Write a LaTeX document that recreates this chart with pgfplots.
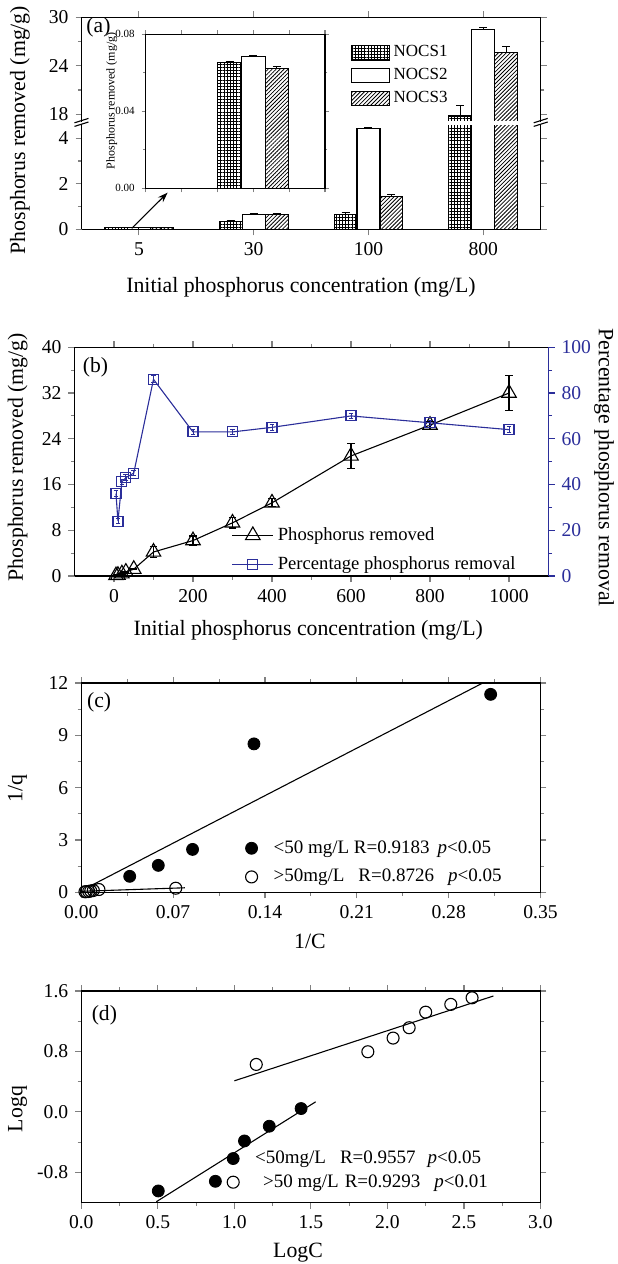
\documentclass[border=0pt]{standalone}
\usepackage{fontspec}
\setmainfont{Liberation Serif}
\usepackage{pgfplots}
\pgfplotsset{compat=1.18}
\usepackage{pgfplotstable}
\usetikzlibrary{patterns.meta,arrows.meta}
\definecolor{pblue}{HTML}{2B2E9A}

% panel (a): bars per sample, x = category index (5, 30, 100, 800 mg/L)
\pgfplotstableread{
x y e
0 0.066 0.001
1 0.33 0.04
2 0.66 0.09
3 17.78 1.3
}\nocsone
\pgfplotstableread{
x y e
0 0.069 0.001
1 0.66 0.03
2 4.44 0.03
3 28.46 0.25
}\nocstwo
\pgfplotstableread{
x y e
0 0.062 0.002
1 0.65 0.04
2 1.43 0.10
3 25.67 0.75
}\nocsthree

% panel (b)
\pgfplotstableread{
c q qe p pe
5 0.09 0.05 36 1.2
10 0.15 0.05 24 1.2
20 0.4 0.05 41.2 1.2
30 0.7 0.05 43 1.2
50 1.2 0.1 45 1.2
100 4.2 0.9 86 1.5
200 6.2 0.8 63 1.2
300 9.3 0.9 63 1.2
400 12.8 0.7 65 1.2
600 21.0 2.2 70 1.2
800 26.4 0.7 67 1.2
1000 32.0 3.1 64 1.2
}\tabb

% panel (c): 1/C vs 1/q
\pgfplotstableread{
x y
0.0369 0.916
0.0587 1.545
0.0848 2.46
0.1316 8.51
0.312 11.35
}\clow
\pgfplotstableread{
x y
0.0720 0.235
0.01343 0.16
0.00918 0.105
0.00721 0.077
0.00562 0.048
0.00385 0.038
0.0028 0.031
}\chigh

% panel (d): LogC vs Logq
\pgfplotstableread{
x y
0.503 -1.047
0.876 -0.919
1.066 -0.385
1.228 -0.19
1.436 0.044
}\dlow
\pgfplotstableread{
x y
1.143 0.628
1.872 0.796
2.037 0.977
2.142 1.114
2.25 1.32
2.414 1.423
2.553 1.51
}\dhigh

\tikzset{
  nocsA/.style={draw=black, line width=0.55pt, pattern={Hatch[angle=0,distance=1.6pt,line width=0.4pt]}},
  nocsB/.style={draw=black, line width=0.55pt, fill=white},
  nocsC/.style={draw=black, line width=0.55pt, pattern={Lines[angle=45,distance=1.4pt,line width=0.4pt]}},
  tag/.style={font=\fontsize{10.8}{12}\selectfont, anchor=west, inner sep=0pt},
}
\pgfplotsset{
  origin/.style={
    scale only axis, anchor=south west,
    tick align=outside,
    major tick length=3pt, minor tick length=1.8pt,
    every tick/.append style={line width=0.55pt},
    axis line style={line width=0.7pt},
    tick label style={font=\fontsize{9.8}{11}\selectfont},
    label style={font=\fontsize{10.9}{12}\selectfont},
    /pgf/number format/assume math mode=true,
    /pgf/number format/1000 sep={},
  },
  errs/.style={error bars/y dir=plus, error bars/y explicit,
    error bars/error bar style={line width=0.5pt, black},
    error bars/error mark options={rotate=90, mark size=2pt, line width=0.5pt, black}},
  dotlegend/.style={legend image code/.code={\draw[##1] plot coordinates {(0pt,0pt)}; \path[draw=none,fill=none] (-3.2pt,-0.1pt) rectangle (9pt,0.1pt);}},
}

\begin{document}
\begin{tikzpicture}
\path[use as bounding box] (0pt,0pt) rectangle (308.5pt,-632pt);

% ---------------- (a) lower part ----------------
\begin{axis}[origin, at={(40.75pt,-114.65pt)}, width=229.6pt, height=52.5pt,
  xmin=-0.5, xmax=3.5, ymin=0, ymax=4.615,
  axis x line*=bottom, axis y line*=box,
  xtick={0,1,2,3}, xticklabels={5,30,100,800},
  ytick={0,2,4}, minor ytick={1,3},
  ybar, bar width=0.2,
  xlabel={Initial phosphorus concentration (mg/L)},
  xlabel style={at={(axis description cs:0.478,-0.55)}, anchor=center}]
\addplot[nocsA, bar shift=-0.2, errs] table[x=x,y=y,y error=e]{\nocsone};
\addplot[nocsB, bar shift=0, errs] table[x=x,y=y,y error=e]{\nocstwo};
\addplot[nocsC, bar shift=0.2, errs] table[x=x,y=y,y error=e]{\nocsthree};
\draw[-{Stealth[length=5pt,width=3.5pt]}, line width=0.55pt] (axis cs:-0.063,0.04) -- (axis cs:0.25,1.61);
\end{axis}

% ---------------- (a) upper part ----------------
\begin{axis}[origin, at={(40.75pt,-60.75pt)}, width=229.6pt, height=52.1pt,
  xmin=-0.5, xmax=3.5, ymin=17.1, ymax=30,
  axis x line*=top, axis y line*=box,
  xtick={0,1,2,3}, xticklabels={},
  ytick={18,24,30}, minor ytick={21,27},
  ybar, bar width=0.2,
  legend style={at={(axis description cs:0.586,0.77)}, anchor=north west,
    draw=none, fill=none, inner sep=0pt, row sep=0.3pt,
    font=\fontsize{8.5}{10}\selectfont},
  legend cell align=left]
\addplot[forget plot, nocsA, bar shift=-0.2, errs] table[x=x,y=y,y error=e]{\nocsone};
\addplot[forget plot, nocsB, bar shift=0, errs] table[x=x,y=y,y error=e]{\nocstwo};
\addplot[forget plot, nocsC, bar shift=0.2, errs] table[x=x,y=y,y error=e]{\nocsthree};
\addlegendimage{legend image code/.code={\draw[nocsA] (0pt,-3.6pt) rectangle (18.8pt,3.6pt);}}
\addlegendentry{NOCS1}
\addlegendimage{legend image code/.code={\draw[nocsB] (0pt,-3.6pt) rectangle (18.8pt,3.6pt);}}
\addlegendentry{NOCS2}
\addlegendimage{legend image code/.code={\draw[nocsC] (0pt,-3.6pt) rectangle (18.8pt,3.6pt);}}
\addlegendentry{NOCS3}
\node[tag] at (rel axis cs:0.01,0.9) {(a)};
\end{axis}

% gap of the broken axis
\fill[white] (41.2pt,-60.45pt) rectangle (269.9pt,-62.35pt);

% ---------------- (a) inset ----------------
\begin{axis}[origin, at={(72.85pt,-94.15pt)}, width=89.65pt, height=77pt,
  xmin=0, xmax=5, ymin=0, ymax=0.08,
  xtick={0,1,2,3,4,5}, xticklabels={},
  ytick={0,0.04,0.08}, minor ytick={0.02,0.06},
  scaled y ticks=false,
  yticklabel style={/pgf/number format/.cd, fixed, fixed zerofill, precision=2},
  tick label style={font=\fontsize{5.5}{6}\selectfont},
  major tick length=2pt, minor tick length=1.2pt,
  axis background/.style={fill=white},
  ylabel={Phosphorus removed (mg/g)},
  ylabel style={font=\fontsize{6}{7}\selectfont, at={(axis description cs:-0.19,0.567)}, anchor=center},
  ybar, bar width=0.66]
\addplot[nocsA, bar shift=-0.66, errs] coordinates {(3,0.0655) +- (0,0.0005)};
\addplot[nocsB, bar shift=0, errs] coordinates {(3,0.0684) +- (0,0.0004)};
\addplot[nocsC, bar shift=0.66, errs] coordinates {(3,0.0620) +- (0,0.0015)};
\end{axis}

% axis break marks
\foreach \xx in {40.75pt,270.35pt}{
  \draw[line width=0.55pt] ([xshift=-3.5pt]\xx,-61.4pt) -- ([xshift=3.5pt]\xx,-59.2pt);
  \draw[line width=0.55pt] ([xshift=-3.5pt]\xx,-63.2pt) -- ([xshift=3.5pt]\xx,-61.0pt);
}
\node[rotate=90, font=\fontsize{10.9}{12}\selectfont] at (10pt,-65pt) {Phosphorus removed (mg/g)};

% ---------------- (b) ----------------
\begin{axis}[origin, at={(37.25pt,-288pt)}, width=237pt, height=114.35pt,
  xmin=-100, xmax=1100, ymin=0, ymax=40,
  axis y line*=left,
  xtick={0,200,...,1000}, minor x tick num=1,
  ytick={0,8,...,40}, minor y tick num=1,
  xlabel={Initial phosphorus concentration (mg/L)},
  ylabel={Phosphorus removed (mg/g)},
  xlabel style={at={(axis description cs:0.493,-0.236)}, anchor=center},
  ylabel style={at={(axis description cs:-0.12,0.52)}, anchor=center}]
\addplot[black, line width=0.55pt, mark=triangle, mark size=4.2pt,
  mark options={line width=0.55pt},
  error bars/.cd, y dir=both, y explicit,
  error bar style={line width=0.55pt},
  error mark options={rotate=90, mark size=1.8pt, line width=0.55pt}]
  table[x=c, y=q, y error=qe]{\tabb};
\node[tag] at (rel axis cs:0.017,0.911) {(b)};
\end{axis}
\begin{axis}[origin, at={(37.25pt,-288pt)}, width=237pt, height=114.35pt,
  xmin=-100, xmax=1100, ymin=0, ymax=100,
  axis y line*=right, axis x line=none,
  ytick={0,20,...,100}, minor y tick num=1,
  y axis line style={pblue},
  every y tick/.append style={pblue},
  yticklabel style={text=pblue},
  ylabel={Percentage phosphorus removal},
  ylabel style={rotate=180, at={(axis description cs:1.117,0.474)}, anchor=center},
  legend style={at={(axis description cs:0.331,0.115)}, anchor=west,
    draw=none, fill=none, inner sep=0pt, row sep=2.4pt,
    font=\fontsize{9.3}{11}\selectfont},
  legend cell align=left,
  legend image code/.code={\draw[mark repeat=2, mark phase=2, #1] plot coordinates {(0pt,0pt) (10.25pt,0pt) (20.5pt,0pt)};}]
\addlegendimage{black, line width=0.55pt, mark=triangle, mark size=4.2pt, mark options={line width=0.55pt}}
\addlegendentry{Phosphorus removed}
\addplot[pblue, line width=0.55pt, mark=square, mark size=2.5pt,
  mark options={line width=0.55pt},
  error bars/.cd, y dir=both, y explicit,
  error bar style={line width=0.45pt},
  error mark options={rotate=90, mark size=1.2pt, line width=0.45pt}]
  table[x=c, y=p, y error=pe]{\tabb};
\addlegendentry{Percentage phosphorus removal}
\end{axis}

% ---------------- (c) ----------------
\begin{axis}[origin, at={(40.65pt,-446.15pt)}, width=229.6pt, height=104.65pt,
  xmin=0, xmax=0.35, ymin=0, ymax=12,
  xtick={0,0.07,0.14,0.21,0.28,0.35}, ytick={0,3,6,9,12},
  minor x tick num=1, minor y tick num=1,
  scaled x ticks=false,
  xticklabel style={/pgf/number format/.cd, fixed, fixed zerofill, precision=2},
  xlabel={1/C}, ylabel={1/q},
  xlabel style={at={(axis description cs:0.498,-0.233)}, anchor=center},
  ylabel style={at={(axis description cs:-0.139,0.498)}, anchor=center},
  dotlegend,
  legend style={at={(axis description cs:0.356,0.142)}, anchor=west,
    draw=none, fill=none, inner sep=0pt, row sep=2.5pt,
    font=\fontsize{9.5}{11}\selectfont},
  legend cell align=left]
\addplot[black, only marks, mark=*, mark size=3pt] table[x=x,y=y]{\clow};
\addlegendentry{<50 mg/L R=0.9183\hspace{4pt}\textit{p}<0.05}
\addplot[black, only marks, mark=o, mark size=3pt, mark options={line width=0.55pt}] table[x=x,y=y]{\chigh};
\addlegendentry{>50mg/L\hspace{7pt}R=0.8726\hspace{7pt}\textit{p}<0.05}
\addplot[forget plot, black, line width=0.55pt] coordinates {(0.005,0.29) (0.306,12.0)};
\addplot[forget plot, black, line width=0.55pt] coordinates {(0.001,0.06) (0.079,0.26)};
\node[tag] at (rel axis cs:0.012,0.906) {(c)};
\end{axis}

% ---------------- (d) ----------------
\begin{axis}[origin, at={(40.65pt,-601.25pt)}, width=229.6pt, height=105.75pt,
  xmin=0, xmax=3, ymin=-1.2, ymax=1.6,
  xtick={0,0.5,...,3}, ytick={-0.8,0,0.8,1.6},
  minor x tick num=1, minor y tick num=1,
  ticklabel style={/pgf/number format/.cd, fixed, fixed zerofill, precision=1},
  xlabel={LogC}, ylabel={Logq},
  xlabel style={at={(axis description cs:0.472,-0.239)}, anchor=center},
  ylabel style={at={(axis description cs:-0.139,0.442)}, anchor=center},
  dotlegend,
  legend style={at={(axis description cs:0.316,0.152)}, anchor=west,
    draw=none, fill=none, inner sep=0pt, row sep=0pt,
    font=\fontsize{9.5}{11}\selectfont},
  legend cell align=left]
\addplot[black, only marks, mark=*, mark size=3pt] table[x=x,y=y]{\dlow};
\addlegendentry{<50mg/L\hspace{7pt}R=0.9557\hspace{6pt}\textit{p}<0.05}
\addplot[black, only marks, mark=o, mark size=3pt, mark options={line width=0.55pt}] table[x=x,y=y]{\dhigh};
\addlegendentry{\hspace{4pt}>50 mg/L\hspace{3pt}R=0.9293\hspace{7pt}\textit{p}<0.01}
\addplot[forget plot, black, line width=0.55pt] coordinates {(0.49,-1.19) (1.531,0.133)};
\addplot[forget plot, black, line width=0.55pt] coordinates {(1.0,0.411) (2.692,1.534)};
\node[tag] at (rel axis cs:0.022,0.886) {(d)};
\end{axis}
\end{tikzpicture}
\end{document}
